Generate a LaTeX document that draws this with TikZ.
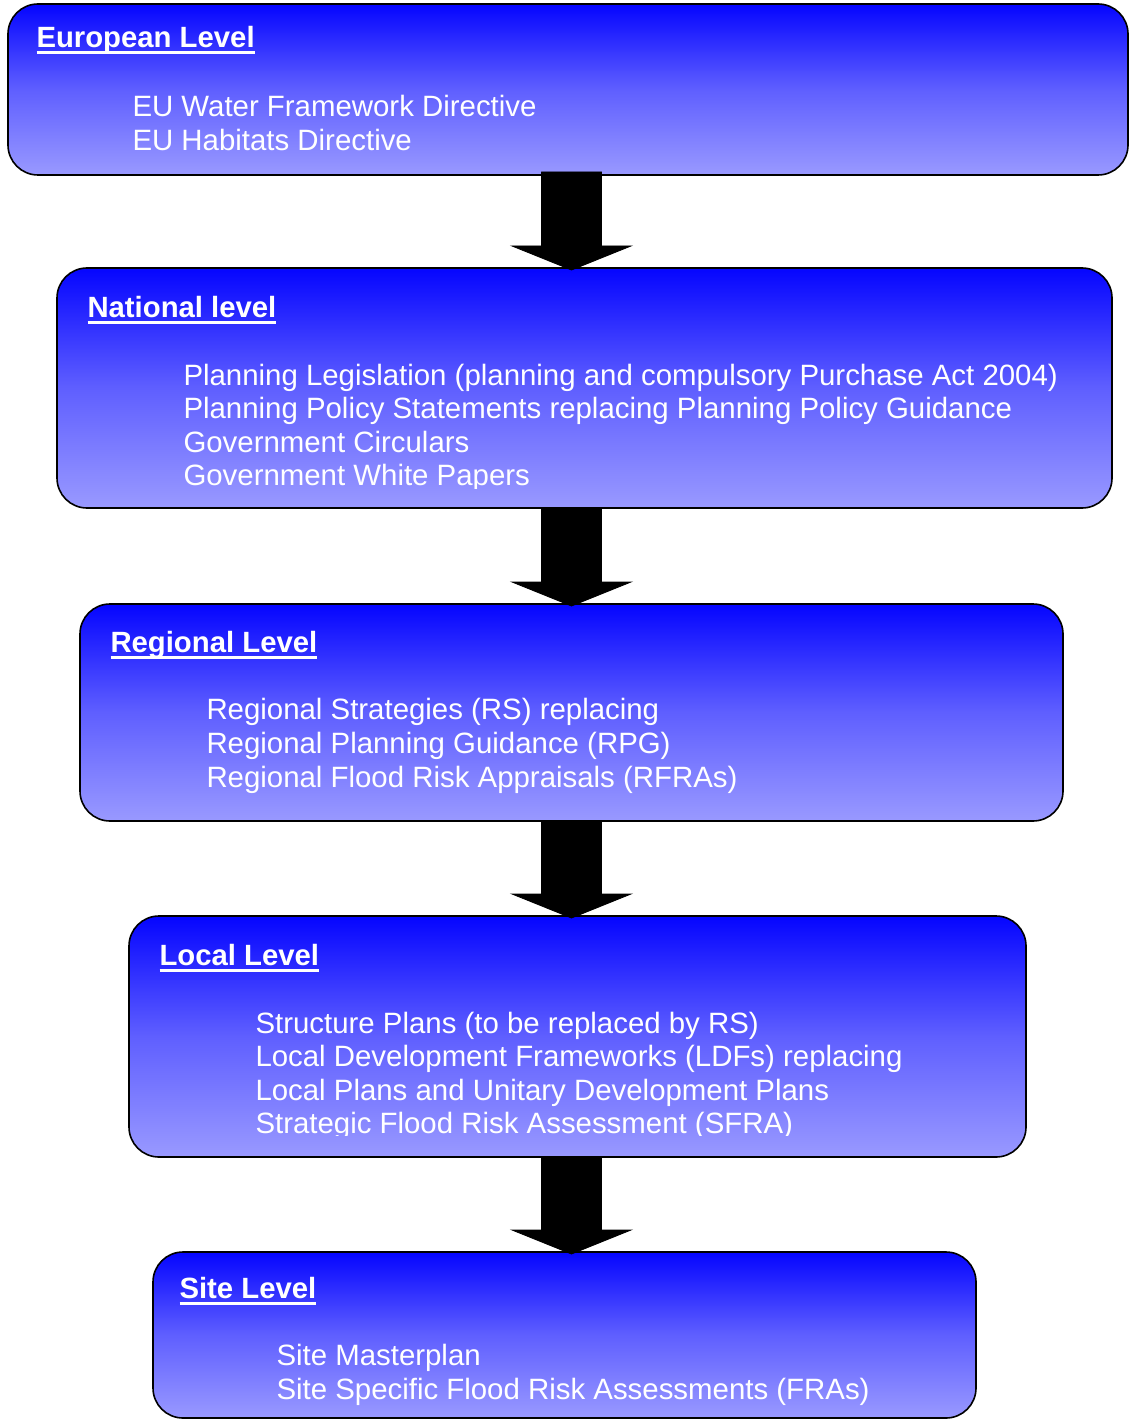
\documentclass[tikz,border=0pt]{standalone}
\usepackage{fontspec}
\setmainfont{Liberation Sans}
\usetikzlibrary{calc}
\definecolor{gtop}{RGB}{5,5,255}
\definecolor{gmid}{RGB}{95,95,255}
\definecolor{gbot}{RGB}{153,153,255}
\tikzset{
  lvl/.style={draw=black, line width=1.6pt, rounded corners=30pt, outer sep=0pt, inner sep=0pt,
    top color=gtop, bottom color=gbot, middle color=gmid, rectangle},
  ttl/.style={anchor=base west, inner sep=0pt, outer sep=0pt, text=white, font=\fontsize{29.3}{34}\selectfont\bfseries},
  itm/.style={anchor=base west, inner sep=0pt, outer sep=0pt, text=white, font=\fontsize{29.4}{34}\selectfont},
  uline/.style={draw=white, line width=3pt},
  blockarrow/.style={fill=black, draw=black, line width=0.8pt, line join=miter,
    to path={let \p1=(\tikztostart), \p2=(\tikztotarget) in
      (\x1-30pt,\y1) -- (\x1+30pt,\y1) -- (\x1+30pt,\y2+24pt) -- (\x1+59.5pt,\y2+24pt)
      -- (\x2,\y2) -- (\x1-59.5pt,\y2+24pt) -- (\x1-30pt,\y2+24pt) -- cycle}}
}
\begin{document}
\begin{tikzpicture}[x=1pt,y=-1pt]
\useasboundingbox (0,0) rectangle (1129,1420);
\fill[white] (0,0) rectangle (1129,1420);

% boxes
\node[lvl, minimum width=1120pt, minimum height=171pt] (b1) at (568,89.5) {};
\node[lvl, minimum width=1055pt, minimum height=240pt] (b2) at (584.5,388) {};
\node[lvl, minimum width=983pt, minimum height=217pt] (b3) at (571.5,712.5) {};
\node[lvl, minimum width=897pt, minimum height=241pt] (b4) at (577.5,1036.5) {};
\node[lvl, minimum width=823pt, minimum height=166pt] (b5) at (564.5,1335) {};

% European
\node[ttl] (t1) at (36.5,48) {European Level};
\draw[uline] ($(t1.base west)+(0,5)$) -- ($(t1.base east)+(0,5)$);
\node[itm] (e1) at (132.5,117) {EU Water Framework Directive};
\node[itm] (e2) at (132.5,151) {EU Habitats Directive};

% National
\node[ttl] (t2) at (87.5,317) {National level};
\draw[uline] ($(t2.base west)+(0,5)$) -- ($(t2.base east)+(0,5)$);
\node[itm] (n1) at (183.5,385) {Planning Legislation (planning and compulsory Purchase Act 2004)};
\node[itm] (n2) at (183.5,418.5) {Planning Policy Statements replacing Planning Policy Guidance};
\node[itm] (n3) at (183.5,452) {Government Circulars};
\begin{scope}
  \clip (0,0) rectangle (1129,488);
  \node[itm] (n4) at (183.5,485.5) {Government White Papers};
\end{scope}

% Regional
\node[ttl] (t3) at (110.5,652) {Regional Level};
\draw[uline] ($(t3.base west)+(0,5)$) -- ($(t3.base east)+(0,5)$);
\node[itm] (r1) at (206.5,719) {Regional Strategies (RS) replacing};
\node[itm] (r2) at (206.5,753) {Regional Planning Guidance (RPG)};
\node[itm] (r3) at (206.5,787) {Regional Flood Risk Appraisals (RFRAs)};

% Local
\node[ttl] (t4) at (159.5,965) {Local Level};
\draw[uline] ($(t4.base west)+(0,5)$) -- ($(t4.base east)+(0,5)$);
\node[itm] (l1) at (255.5,1033) {Structure Plans (to be replaced by RS)};
\node[itm] (l2) at (255.5,1066.5) {Local Development Frameworks (LDFs) replacing};
\node[itm] (l3) at (255.5,1100) {Local Plans and Unitary Development Plans};
\begin{scope}
  \clip (0,0) rectangle (1129,1135);
  \node[itm] (l4) at (255.5,1133.5) {Strategic Flood Risk Assessment (SFRA)};
\end{scope}

% Site
\node[ttl] (t5) at (179.5,1298) {Site Level};
\draw[uline] ($(t5.base west)+(0,5)$) -- ($(t5.base east)+(0,5)$);
\node[itm] (s1) at (276.5,1365) {Site Masterplan};
\node[itm] (s2) at (276.5,1399) {Site Specific Flood Risk Assessments (FRAs)};

% arrows
\coordinate (ax) at (571.5,0);
\draw[blockarrow] ($(b1.south -| ax)+(0,-3)$) to ($(b2.north -| ax)+(0,2)$);
\draw[blockarrow] (b2.south -| ax) to ($(b3.north -| ax)+(0,2)$);
\draw[blockarrow] (b3.south -| ax) to ($(b4.north -| ax)+(0,2)$);
\draw[blockarrow] (b4.south -| ax) to ($(b5.north -| ax)+(0,2)$);
\end{tikzpicture}
\end{document}
